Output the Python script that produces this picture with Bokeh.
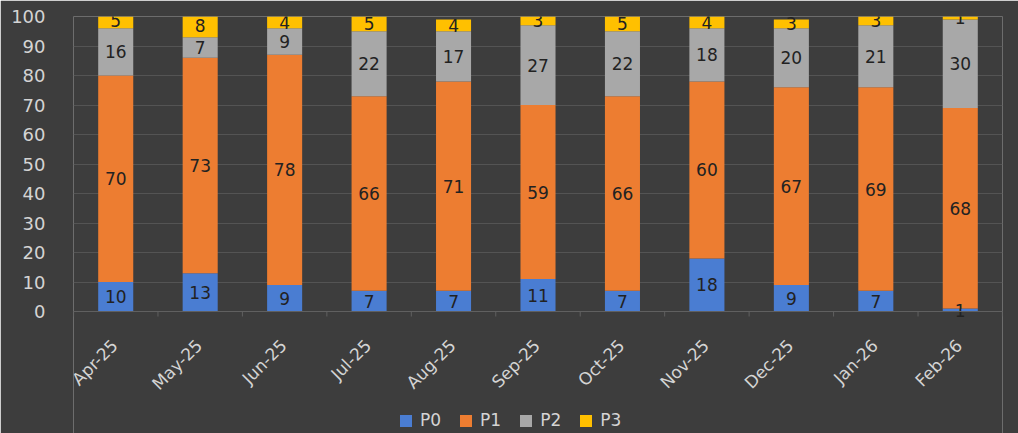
from bokeh.plotting import figure
from bokeh.models import ColumnDataSource, FixedTicker, Range1d, Legend, LegendItem, Span
from bokeh.core.properties import value
from bokeh.embed import file_html
from bokeh.resources import INLINE
import math

months = ["Apr-25", "May-25", "Jun-25", "Jul-25", "Aug-25", "Sep-25", "Oct-25", "Nov-25", "Dec-25", "Jan-26", "Feb-26"]
p0 = [10, 13, 9, 7, 7, 11, 7, 18, 9, 7, 1]
p1 = [70, 73, 78, 66, 71, 59, 66, 60, 67, 69, 68]
p2 = [16, 7, 9, 22, 17, 27, 22, 18, 20, 21, 30]
p3 = [5, 8, 4, 5, 4, 3, 5, 4, 3, 3, 1]
series = ["P0", "P1", "P2", "P3"]
colors = ["#4a7dd2", "#ed7d31", "#a8a8a8", "#ffc000"]
yticks = [0, 10, 20, 30, 40, 50, 60, 70, 80, 90, 100]

FONT = "DejaVu Sans"
BG = "#3d3d3d"
TXT = "#d4d4d4"
AXC = "#606060"

# layout: value axis 0..100 occupies 295px; area below the axis is 122px
PX_PER_UNIT = 295 / 100
Y_MIN = -122 / PX_PER_UNIT

n = len(months)
xs = [i + 0.5 for i in range(n)]
data = dict(x=xs, P0=p0, P1=p1, P2=p2, P3=p3)
src = ColumnDataSource(data)

p = figure(frame_width=929, frame_height=417, output_backend="svg", toolbar_location=None,
           x_range=Range1d(0, n), y_range=Range1d(Y_MIN, 100),
           min_border_left=73, min_border_right=16, min_border_top=16, min_border_bottom=0)
p.background_fill_color = BG
p.border_fill_color = BG
p.outline_line_color = None

rs = p.vbar_stack(series, x="x", width=0.415, source=src, color=colors, line_color=None)

# category axis drawn inside the frame
p.add_layout(Span(location=0, dimension="width", line_color=AXC, line_width=1))
bounds = [i + 0.001 if i == 0 else (i - 0.001 if i == n else i) for i in range(n + 1)]
p.ray(x=bounds, y=[0] * len(bounds), length=5, length_units="screen",
      angle=-math.pi / 2, line_color=AXC, line_width=1)
p.text(x=xs, y=[0] * n, text=months, angle=math.pi / 4, text_align="right",
       text_baseline="middle", x_offset=-1, y_offset=31,
       text_font=value(FONT), text_font_size="17px", text_color=TXT)

# data labels
vals = [p0, p1, p2, p3]
lx, ly, lt = [], [], []
for i in range(n):
    base = 0
    for s in range(4):
        v = vals[s][i]
        lx.append(xs[i]); ly.append(base + v / 2); lt.append(str(v))
        base += v
p.text(x=lx, y=ly, text=lt, text_align="center", text_baseline="middle",
       text_font=value(FONT), text_font_size="17px", text_color="#222222")

p.xaxis.visible = False

p.yaxis.ticker = FixedTicker(ticks=yticks)
p.yaxis.axis_line_color = None
p.yaxis.major_tick_line_color = None
p.yaxis.minor_tick_line_color = None
p.yaxis.major_label_text_color = TXT
p.yaxis.major_label_text_font = FONT
p.yaxis.major_label_text_font_size = "18px"
p.yaxis.major_label_standoff = 22

p.xgrid.grid_line_color = None
p.ygrid.grid_line_color = "#545454"
p.ygrid.grid_line_width = 1

legend = Legend(items=[LegendItem(label=s, renderers=[r]) for s, r in zip(series, rs)],
                orientation="horizontal", location=(325, 3),
                glyph_width=15, glyph_height=15, label_standoff=7, spacing=17,
                padding=0, margin=0, label_height=18,
                label_text_font=FONT, label_text_font_size="17px", label_text_color=TXT,
                background_fill_alpha=0, border_line_color=None)
p.add_layout(legend, "center")

open("out.html", "w").write(file_html(p, INLINE))
